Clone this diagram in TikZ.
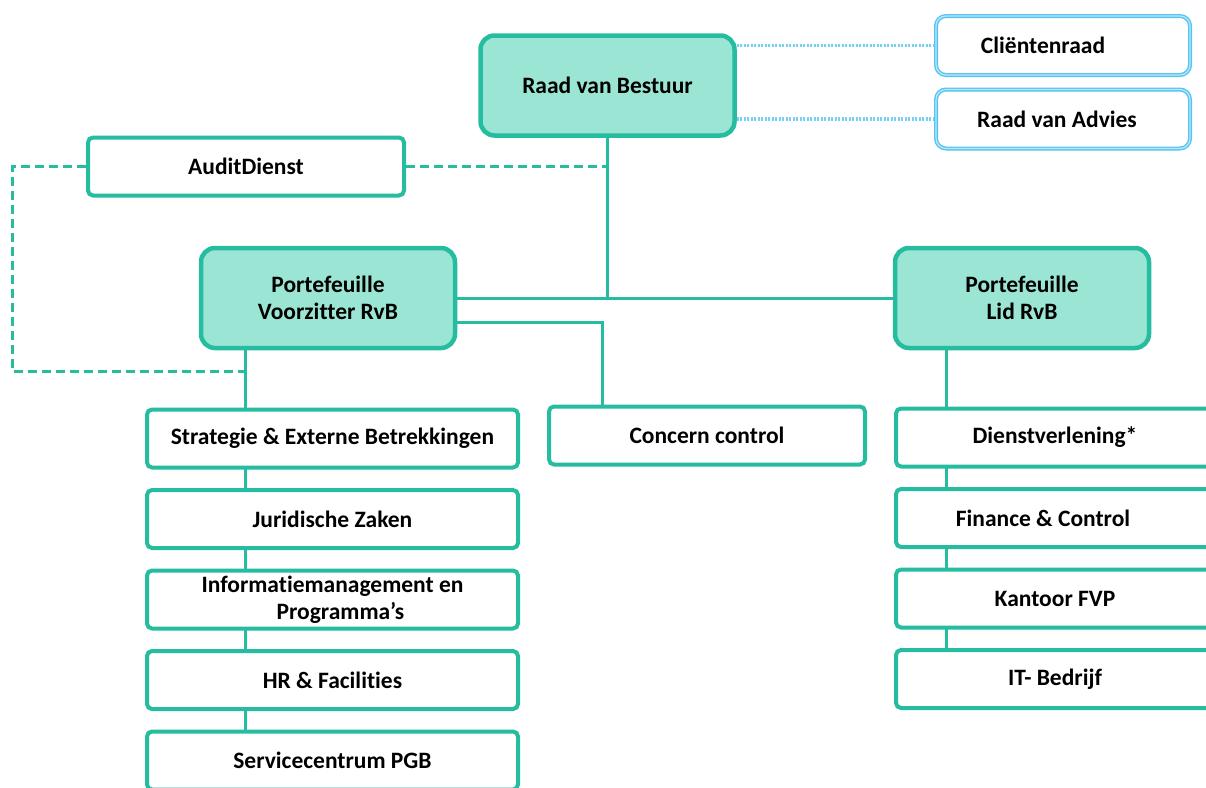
\documentclass[tikz,border=0pt]{standalone}
\usepackage{fontspec}
\setmainfont{Carlito}[Ligatures=NoCommon]
\usetikzlibrary{positioning}
\usetikzlibrary{backgrounds}

\definecolor{rvbteal}{RGB}{38,188,160}
\definecolor{rvbfill}{RGB}{155,229,212}
\definecolor{advblue}{RGB}{84,196,240}
\definecolor{advpale}{RGB}{190,232,250}

\begin{document}
\begin{tikzpicture} [x=1pt, y=-1pt, node distance = 18.5pt, font=\bfseries\fontsize{23.5}{27}\selectfont,
    board/.style = {draw=rvbteal, fill=rvbfill, line width=4.5pt, rounded corners=14pt, minimum width=254pt, minimum height=100pt, align=center},
    unit/.style = {draw=rvbteal, fill=white, line width=4pt, rounded corners=5pt, minimum height=58pt, align=center},
    council/.style = {draw=advblue, double=advpale, double distance=1.2pt, line width=1.4pt, rounded corners=10pt, minimum width=254pt, minimum height=59pt},
    link/.style = {draw=rvbteal, line width=3pt},
    audit/.style = {link, dash pattern=on 9pt off 5pt},
    advice/.style = {draw=advblue!80, line width=3.5pt, dash pattern=on 2pt off 1.5pt}]
    \clip (0,0) rectangle (1206,787);
    % bestuur en adviesorganen
    \node[board] (rvb) at (607.5,85.5) {Raad van Bestuur};
    \node[council] (cr) at (1063,45.5) {Cliëntenraad\hspace*{40pt}};
    \node[council] (ra) at (1063,119) {Raad van Advies\hspace*{12pt}};
    \node[unit, minimum width=316pt] (ad) at (246,166.5) {AuditDienst};
    \node[board] (pv) at (328,298) {Portefeuille\\Voorzitter RvB};
    \node[board] (pl) at (1022,298) {Portefeuille\\Lid RvB};
    \node[unit, minimum width=316pt] (cc) at (707,435.5) {Concern control};
    % portefeuille voorzitter
    \node[unit, minimum width=371pt] (seb) at (332.5,438.5) {Strategie \& Externe Betrekkingen};
    \node[unit, minimum width=371pt, below = of seb] (jz) {Juridische Zaken};
    \node[unit, minimum width=371pt, below = of jz] (imp) {Informatiemanagement en\\\hspace*{16pt}Programma’s};
    \node[unit, minimum width=371pt, below = of imp] (hrf) {HR \& Facilities};
    \node[unit, minimum width=371pt, below = of hrf] (pgb) {Servicecentrum PGB};
    % portefeuille lid
    \node[unit, minimum width=318pt] (dv) at (1055,437.5) {Dienstverlening*};
    \node[unit, minimum width=318pt, below = of dv] (fc) {Finance \& Control\hspace*{24pt}};
    \node[unit, minimum width=318pt, below = of fc] (fvp) {Kantoor FVP};
    \node[unit, minimum width=318pt, below = of fvp] (itb) {IT- Bedrijf};
    \coordinate (vzstem) at ([xshift=47pt]pv.south west);
    \coordinate (lidstem) at ([xshift=54pt]pl.south west);
    \begin{scope}[on background layer]
        \draw[link] (rvb.south) -- (rvb.south |- pv.east);
        \draw[link] (pv.east) -- (pl.west);
        \draw[link] ([yshift=-24pt]pv.east) -| ([xshift=55pt]cc.north west);
        \draw[link] (vzstem) -- (vzstem |- pgb.center);
        \draw[link] (lidstem) -- (lidstem |- itb.center);
        \draw[audit] (ad.east) -- (ad.east -| rvb.south);
        \draw[audit] (ad.west) -- ++(-74,0) |- (vzstem |- 0,371);
        \draw[advice] (rvb.east |- cr.center) -- (cr.west);
        \draw[advice] (rvb.east |- ra.center) -- (ra.west);
    \end{scope}
\end{tikzpicture}
\end{document}
